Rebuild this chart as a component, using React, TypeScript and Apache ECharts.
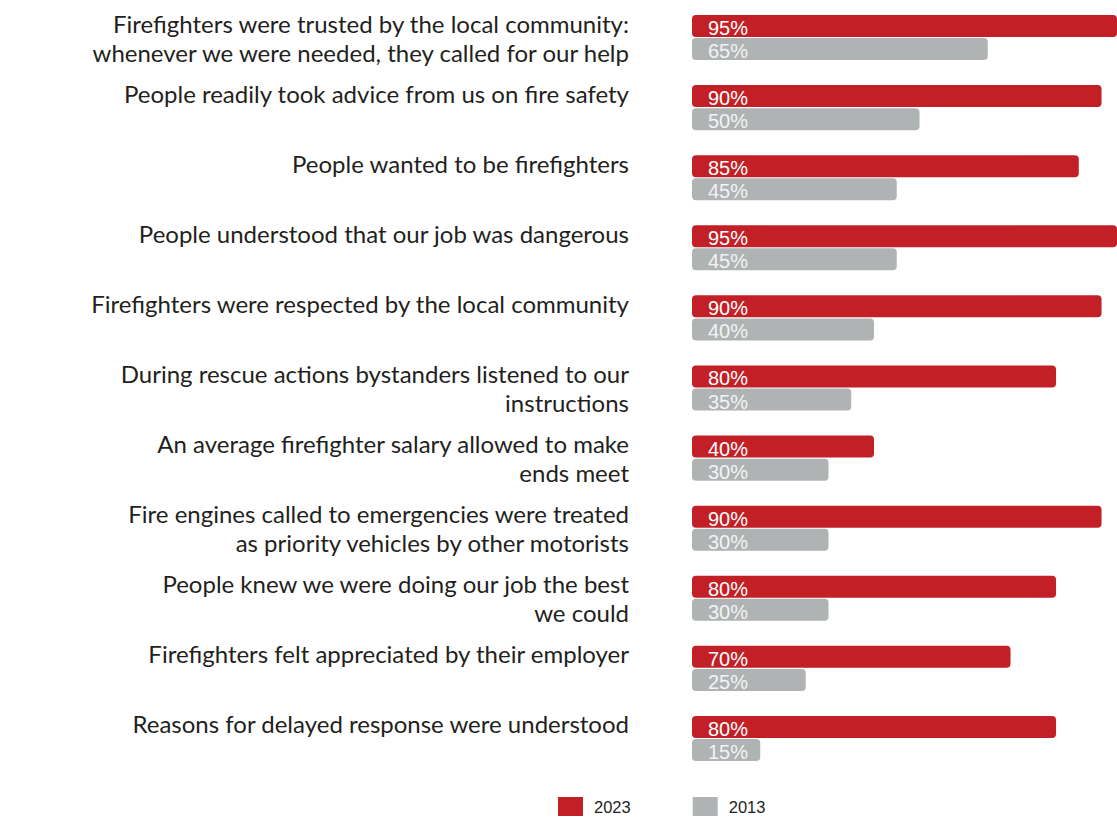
import React, { useEffect, useRef } from "react";
import * as echarts from "echarts";

const categories: string[] = [
  "Firefighters were trusted by the local community:\nwhenever we were needed, they called for our help",
  "People readily took advice from us on fire safety",
  "People wanted to be firefighters",
  "People understood that our job was dangerous",
  "Firefighters were respected by the local community",
  "During rescue actions bystanders listened to our\ninstructions",
  "An average firefighter salary allowed to make\nends meet",
  "Fire engines called to emergencies were treated\nas priority vehicles by other motorists",
  "People knew we were doing our job the best\nwe could",
  "Firefighters felt appreciated by their employer",
  "Reasons for delayed response were understood",
];

const seriesNames = ["2023", "2013"];
const values2023: number[] = [95, 90, 85, 95, 90, 80, 40, 90, 80, 70, 80];
const values2013: number[] = [65, 50, 45, 45, 40, 35, 30, 30, 30, 25, 15];

const RED = "#c22026";
const GRAY = "#b0b3b4";

export default function App() {
  const ref = useRef<HTMLDivElement>(null);

  useEffect(() => {
    if (!ref.current) return;
    const chart = echarts.init(ref.current, null, { renderer: "svg" });

    const barLabel = (color: string) => ({
      show: true,
      position: "insideLeft" as const,
      distance: 16,
      offset: [0, 2],
      formatter: (p: any) => `${p.value}%`,
      color,
      fontFamily: "Liberation Sans, Arial, sans-serif",
      fontSize: 20,
    });

    chart.setOption({
      animation: false,
      backgroundColor: "#ffffff",
      legend: {
        data: seriesNames,
        left: 558,
        top: 797,
        padding: 0,
        icon: "rect",
        itemWidth: 25,
        itemHeight: 19,
        itemGap: 62,
        textStyle: {
          fontFamily: "Liberation Sans, Arial, sans-serif",
          fontSize: 16.5,
          color: "#231f20",
          padding: [4, 0, 0, 6],
        },
      },
      grid: {
        left: 692,
        top: 2.5,
        right: 0,
        height: 771,
        containLabel: false,
      },
      xAxis: {
        type: "value",
        min: 0,
        max: 93.4,
        show: false,
      },
      yAxis: {
        type: "category",
        data: categories,
        inverse: true,
        axisLine: { show: false },
        axisTick: { show: false },
        splitLine: { show: false },
        axisLabel: {
          margin: 63,
          align: "right",
          verticalAlign: "middle",
          fontFamily: "Lato, sans-serif",
          fontSize: 24,
          lineHeight: 29,
          color: "#231f20",
          formatter: (v: string) => (v.indexOf("\n") >= 0 ? v : v + "\n "),
        },
      },
      series: [
        {
          name: seriesNames[0],
          type: "bar",
          data: values2023,
          barWidth: 22,
          barGap: "5%",
          clip: true,
          itemStyle: { color: RED, borderRadius: 4 },
          label: barLabel("#ffffff"),
        },
        {
          name: seriesNames[1],
          type: "bar",
          data: values2013,
          barWidth: 22,
          barGap: "5%",
          clip: true,
          itemStyle: { color: GRAY, borderRadius: 4 },
          label: barLabel("#f3f3f3"),
        },
      ],
    });

    return () => chart.dispose();
  }, []);

  return (
    <div
      ref={ref}
      style={{ position: "absolute", left: 0, top: 0, width: 1117, height: 818 }}
    />
  );
}
